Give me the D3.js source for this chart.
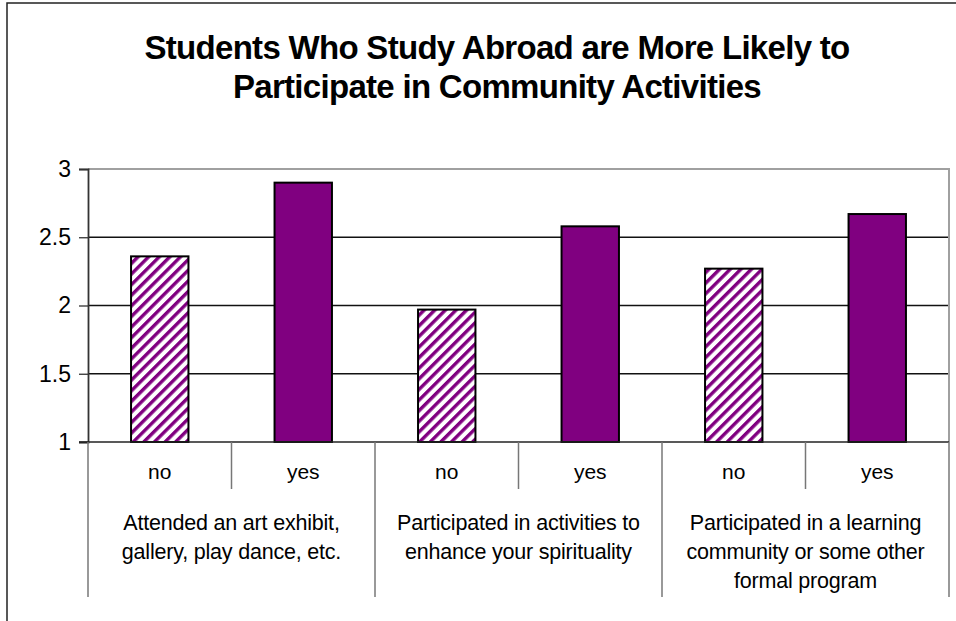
<!DOCTYPE html>
<html lang="en">
<head>
    <meta charset="UTF-8">
    <title>Students Who Study Abroad</title>
    <script src="https://d3js.org/d3.v7.min.js"></script>
    <style>
        body { margin: 0; background: #fff; }
        text { font-family: "Liberation Sans", Arial, sans-serif; fill: #000; }
        .title { font-weight: bold; font-size: 33px; letter-spacing: -0.7px; }
        .tick text { font-size: 23px; }
        .cat { font-size: 21px; }
        .grp { font-size: 21.5px; letter-spacing: -0.2px; }
    </style>
</head>
<body>
<script>
    const title = ["Students Who Study Abroad are More Likely to", "Participate in Community Activities"];
    const groups = [
        ["Attended an art exhibit,", "gallery, play dance, etc."],
        ["Participated in activities to", "enhance your spirituality"],
        ["Participated in a learning", "community or some other", "formal program"]
    ];
    const answers = ["no", "yes"];
    const noValues = [2.36, 1.97, 2.27];
    const yesValues = [2.9, 2.58, 2.67];
    const yTicks = [1, 1.5, 2, 2.5, 3];

    const W = 956, H = 621;
    const plot = { left: 88, right: 949, top: 169, bottom: 442 };

    const svg = d3.select("body").append("svg")
        .attr("width", W)
        .attr("height", H);

    // hatch pattern for the "no" bars
    const defs = svg.append("defs");
    defs.append("pattern")
        .attr("id", "hatch")
        .attr("patternUnits", "userSpaceOnUse")
        .attr("width", 7.5)
        .attr("height", 7.5)
        .attr("patternTransform", "rotate(45)")
        .call(p => {
            p.append("rect").attr("width", 7.5).attr("height", 7.5).attr("fill", "#fff");
            p.append("rect").attr("x", 0).attr("width", 3.4).attr("height", 7.5).attr("fill", "#800080");
        });

    // outer chart border
    svg.append("rect")
        .attr("x", 7).attr("y", 3)
        .attr("width", W + 20).attr("height", H + 20)
        .attr("fill", "none")
        .attr("stroke", "#222")
        .attr("stroke-width", 1.5);

    svg.append("text")
        .attr("class", "title")
        .attr("text-anchor", "middle")
        .selectAll("tspan")
        .data(title)
        .enter().append("tspan")
        .attr("x", 497)
        .attr("y", (d, i) => 59 + i * 39)
        .text(d => d);

    const y = d3.scaleLinear().domain([1, 3]).range([plot.bottom, plot.top]);

    const x0 = d3.scaleBand()
        .domain(d3.range(groups.length))
        .range([plot.left, plot.right]);

    const x1 = d3.scaleBand()
        .domain(answers)
        .range([0, x0.bandwidth()])
        .paddingInner(0.6)
        .paddingOuter(0.3);

    const sub = d3.scaleBand()
        .domain(answers)
        .range([0, x0.bandwidth()]);

    // gridlines
    svg.append("g")
        .selectAll("line")
        .data(yTicks.filter(t => t > 1 && t < 3))
        .enter().append("line")
        .attr("x1", plot.left).attr("x2", plot.right)
        .attr("y1", d => y(d)).attr("y2", d => y(d))
        .attr("stroke", "#111")
        .attr("stroke-width", 1.3);

    // plot area border (top/right, grey)
    svg.append("path")
        .attr("d", `M${plot.left},${y(3)}H${plot.right}V${plot.bottom}`)
        .attr("fill", "none")
        .attr("stroke", "#a0a0a0")
        .attr("stroke-width", 2);

    // bars
    const data = [];
    groups.forEach((g, i) => {
        data.push({ g: i, a: "no", v: noValues[i] });
        data.push({ g: i, a: "yes", v: yesValues[i] });
    });

    svg.append("g")
        .selectAll("rect")
        .data(data)
        .enter().append("rect")
        .attr("x", d => x0(d.g) + x1(d.a))
        .attr("y", d => y(d.v))
        .attr("width", x1.bandwidth())
        .attr("height", d => y(1) - y(d.v))
        .attr("fill", d => d.a === "no" ? "url(#hatch)" : "#800080")
        .attr("stroke", "#000")
        .attr("stroke-width", 2);

    // y axis
    const yAxis = svg.append("g")
        .attr("transform", `translate(${plot.left},0)`)
        .call(d3.axisLeft(y).tickValues(yTicks).tickFormat(d3.format("")).tickSize(9).tickPadding(8));
    yAxis.select(".domain").attr("stroke", "#333").attr("stroke-width", 1.8);
    yAxis.selectAll(".tick line").attr("stroke", "#333").attr("stroke-width", 1.3);
    yAxis.selectAll(".tick text").attr("font-family", null).attr("font-size", null);

    // x axis line
    svg.append("line")
        .attr("x1", plot.left - 9).attr("x2", plot.right)
        .attr("y1", plot.bottom).attr("y2", plot.bottom)
        .attr("stroke", "#222")
        .attr("stroke-width", 1.5);

    // category dividers: long at group edges, short between no / yes
    const longX = d3.range(groups.length + 1).map(i => i < groups.length ? x0(i) : plot.right);
    svg.append("g")
        .selectAll("line")
        .data(longX)
        .enter().append("line")
        .attr("x1", d => d).attr("x2", d => d)
        .attr("y1", plot.bottom).attr("y2", 597)
        .attr("stroke", "#777")
        .attr("stroke-width", 1.5);

    svg.append("g")
        .selectAll("line")
        .data(d3.range(groups.length))
        .enter().append("line")
        .attr("x1", d => x0(d) + sub("yes")).attr("x2", d => x0(d) + sub("yes"))
        .attr("y1", plot.bottom).attr("y2", 489)
        .attr("stroke", "#777")
        .attr("stroke-width", 1.5);

    // no / yes labels
    svg.append("g")
        .selectAll("text")
        .data(data)
        .enter().append("text")
        .attr("class", "cat")
        .attr("text-anchor", "middle")
        .attr("x", d => x0(d.g) + sub(d.a) + sub.bandwidth() / 2)
        .attr("y", 479)
        .text(d => d.a);

    // group labels
    svg.append("g")
        .selectAll("text")
        .data(groups)
        .enter().append("text")
        .attr("class", "grp")
        .attr("text-anchor", "middle")
        .each(function (lines, i) {
            d3.select(this).selectAll("tspan")
                .data(lines)
                .enter().append("tspan")
                .attr("x", x0(i) + x0.bandwidth() / 2)
                .attr("y", (d, j) => 530 + j * 29)
                .text(d => d);
        });
</script>
</body>
</html>
